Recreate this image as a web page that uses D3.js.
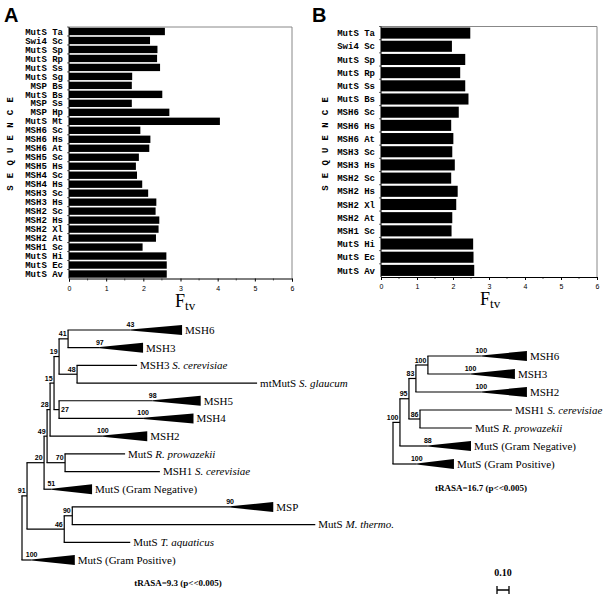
<!DOCTYPE html>
<html><head><meta charset="utf-8">
<script src="https://cdn.jsdelivr.net/npm/d3@7"></script>
<style>body{margin:0;background:#fff}</style>
</head><body><svg id="c" width="608" height="595"></svg>
<script>
// ---------- DATA ----------
const seqA = ["MutS Ta","Swi4 Sc","MutS Sp","MutS Rp","MutS Ss","MutS Sg","MSP Bs","MutS Bs","MSP Ss","MSP Hp","MutS Mt","MSH6 Sc","MSH6 Hs","MSH6 At","MSH5 Sc","MSH5 Hs","MSH4 Sc","MSH4 Hs","MSH3 Sc","MSH3 Hs","MSH2 Sc","MSH2 Hs","MSH2 Xl","MSH2 At","MSH1 Sc","MutS Hi","MutS Ec","MutS Av"];
const ftvA = [2.58,2.18,2.38,2.37,2.45,1.70,1.69,2.51,1.69,2.70,4.06,1.92,2.19,2.16,1.88,1.80,1.83,1.97,2.13,2.35,2.33,2.43,2.41,2.34,1.98,2.62,2.63,2.63];
const seqB = ["MutS Ta","Swi4 Sc","MutS Sp","MutS Rp","MutS Ss","MutS Bs","MSH6 Sc","MSH6 Hs","MSH6 At","MSH3 Sc","MSH3 Hs","MSH2 Sc","MSH2 Hs","MSH2 Xl","MSH2 At","MSH1 Sc","MutS Hi","MutS Ec","MutS Av"];
const ftvB = [2.48,1.97,2.34,2.20,2.34,2.43,2.16,1.95,2.01,1.98,2.05,1.95,2.13,2.09,1.98,1.96,2.56,2.57,2.59];
const xTicks = [0,1,2,3,4,5,6];
const yTitle = "SEQUENCE";

// trees: len = branch length (substitutions/site), boot = bootstrap, wedge = collapsed clade depth
const treeA = {len:0, children:[
  {len:0.042, boot:91, children:[
    {len:0.142, boot:20, children:[
      {len:0.025, boot:49, children:[
        {len:0.025, boot:28, children:[
          {len:0.033, boot:15, children:[
            {len:0.042, boot:19, children:[
              {len:0.075, boot:41, children:[
                {len:0.95, name:"MSH6", boot:43, wedge:0.43},
                {len:0.625, name:"MSH3", boot:97, wedge:0.36}]},
              {len:0.15, boot:48, children:[
                {len:0.5, name:"MSH3", sp:"S. cerevisiae"},
                {len:1.5, name:"mtMutS", sp:"S. glaucum"}]}]},
            {len:0.042, boot:27, bootRight:true, children:[
              {len:1.18, name:"MSH5", boot:98, wedge:0.40},
              {len:1.12, name:"MSH4", boot:100, wedge:0.42}]}]},
          {len:0.81, name:"MSH2", boot:100, wedge:0.37}]},
        {len:0.15, boot:70, children:[
          {len:0.5, name:"MutS", sp:"R. prowazekii"},
          {len:0.79, name:"MSH1", sp:"S. cerevisiae"}]}]},
      {len:0.40, name:"MutS (Gram Negative)", boot:51, wedge:0.34}]},
    {len:0.31, boot:46, children:[
      {len:0.067, boot:90, children:[
        {len:1.675, name:"MSP", boot:90, wedge:0.36},
        {len:2.025, name:"MutS", sp:"M. thermo."}]},
      {len:0.55, name:"MutS", sp:"T. aquaticus"}]}]},
  {len:0.44, name:"MutS (Gram Positive)", boot:100, wedge:0.36}]};

const treeB = {len:0, children:[
  {len:0.058, boot:100, children:[
    {len:0.075, boot:95, children:[
      {len:0.058, boot:83, children:[
        {len:0.10, boot:100, children:[
          {len:0.825, name:"MSH6", boot:100, wedge:0.38},
          {len:0.725, name:"MSH3", boot:100, wedge:0.37}]},
        {len:0.925, name:"MSH2", boot:100, wedge:0.38}]},
      {len:0.092, boot:86, children:[
        {len:0.767, name:"MSH1", sp:"S. cerevisiae"},
        {len:0.433, name:"MutS", sp:"R. prowazekii"}]}]},
    {len:0.592, name:"MutS (Gram Negative)", boot:88, wedge:0.36}]},
  {len:0.508, name:"MutS (Gram Positive)", boot:100, wedge:0.31}]};

const statA = "tRASA=9.3 (p<<0.005)";
const statB = "tRASA=16.7 (p<<0.005)";
const scaleBar = 0.10;

// ---------- DRAW ----------
const svg = d3.select("#c");
svg.append("rect").attr("width",608).attr("height",595).attr("fill","#fff");

function barChart(o){
  const g = svg.append("g");
  const x = d3.scaleLinear().domain([0,6]).range([o.x0,o.x1]);
  const y = d3.scaleBand().domain(o.seq).range([o.y0,o.y1]).paddingInner(o.pad).paddingOuter(o.pad/2);
  // frame
  g.append("path").attr("d",`M${o.x0},${o.y0}H${o.x1}V${o.y1}`).attr("fill","none").attr("stroke","#888").attr("stroke-width",1);
  g.selectAll("rect.bar").data(o.vals).join("rect").attr("class","bar")
    .attr("x",x(0)).attr("y",(d,i)=>y(o.seq[i])).attr("height",y.bandwidth())
    .attr("width",d=>x(d)-x(0)).attr("fill","#000");
  // left axis
  g.append("line").attr("x1",o.x0).attr("x2",o.x0).attr("y1",o.y0).attr("y2",o.y1).attr("stroke","#000");
  const step = y.step();
  g.selectAll("line.yt").data(o.seq).join("line").attr("class","yt")
    .attr("x1",o.x0-2).attr("x2",o.x0).attr("y1",d=>y(d)-step*o.pad/2).attr("y2",d=>y(d)-step*o.pad/2)
    .attr("stroke","#000").attr("stroke-width",0.6);
  g.selectAll("text.lab").data(o.seq).join("text").attr("class","lab")
    .attr("x",o.x0-6).attr("y",d=>y(d)+y.bandwidth()/2).attr("dy","0.35em")
    .attr("text-anchor","end").attr("font-family","Liberation Mono, monospace").attr("font-weight","bold")
    .attr("font-size",o.fs).attr("xml:space","preserve").style("white-space","pre").text(d=>d);
  // bottom axis
  const ax = g.append("g").attr("transform",`translate(0,${o.y1})`)
    .call(d3.axisBottom(x).tickValues(xTicks).tickSize(3).tickFormat(d3.format("d")));
  ax.select(".domain").attr("stroke","#000");
  ax.selectAll("text").attr("font-family","Liberation Sans, Arial").attr("font-size",7).attr("dy","0.9em");
  const minor = d3.range(0.5,6,1);
  g.selectAll("line.mt").data(minor).join("line").attr("class","mt")
    .attr("x1",d=>x(d)).attr("x2",d=>x(d)).attr("y1",o.y1).attr("y2",o.y1+2).attr("stroke","#000").attr("stroke-width",0.6);
  // x title
  const t = g.append("text").attr("x",o.tx).attr("y",o.y1+28).attr("font-family","Liberation Serif, Times New Roman, serif");
  t.append("tspan").attr("font-size",18).text("F");
  t.append("tspan").attr("font-size",13).attr("dy",3).text("tv");
  // y title
  g.append("text").attr("transform",`translate(${o.yx},144) rotate(-90)`)
    .attr("text-anchor","middle").attr("font-family","Liberation Mono, monospace").attr("font-weight","bold")
    .attr("font-size",9).attr("letter-spacing",7.2).attr("dx",3.6).text(yTitle);
  // panel letter
  g.append("text").attr("x",o.px).attr("y",22).attr("font-family","Liberation Sans, Arial").attr("font-weight","bold")
    .attr("font-size",20).text(o.panel);
}
barChart({seq:seqA, vals:ftvA, x0:69, x1:292, y0:27, y1:278.5, pad:0.18, fs:9, tx:175, yx:13, px:4, panel:"A"});
barChart({seq:seqB, vals:ftvB, x0:381, x1:597, y0:26.5, y1:277, pad:0.16, fs:9, tx:480, yx:328, px:312, panel:"B"});

function drawTree(data, o){
  const g = svg.append("g");
  const root = d3.hierarchy(data);
  const x = d3.scaleLinear().domain([0,1]).range([o.x0, o.x0+120]);
  root.eachBefore(d=>{ d.dist = (d.parent?d.parent.dist:0) + d.data.len; });
  const leaves = root.leaves();
  const ly = d3.scaleLinear().domain([0,leaves.length-1]).range([o.y0,o.y1]);
  leaves.forEach((d,i)=> d.yy = ly(i));
  root.eachAfter(d=>{ if(d.children) d.yy = (d.children[0].yy + d.children[d.children.length-1].yy)/2; });
  const sw = 1.2;
  root.descendants().forEach(d=>{
    if(d.children){
      g.append("line").attr("x1",x(d.dist)).attr("x2",x(d.dist))
        .attr("y1",d.children[0].yy).attr("y2",d.children[d.children.length-1].yy).attr("stroke","#000").attr("stroke-width",sw);
    }
    if(!d.parent) return;
    const xs = x(d.parent.dist), xe = x(d.dist);
    const wx = d.data.wedge ? x(d.dist - d.data.wedge) : xe;
    g.append("line").attr("x1",xs-sw/2).attr("x2",wx).attr("y1",d.yy).attr("y2",d.yy).attr("stroke","#000").attr("stroke-width",sw);
    if(d.data.wedge){
      g.append("path").attr("d",`M${wx},${d.yy-0.6}L${xe},${d.yy-5}V${d.yy+5}L${wx},${d.yy+0.6}Z`).attr("fill","#000");
    }
    if(d.data.boot!==undefined){
      const bt = g.append("text").attr("font-family","Liberation Sans, Arial").attr("font-weight","bold").attr("font-size",7);
      if(!d.children){
        bt.attr("x",wx).attr("y",d.yy-3).attr("text-anchor","middle").text(d.data.boot);
      } else if(d.data.bootRight){
        bt.attr("x",xe+2).attr("y",d.yy+2.5).text(d.data.boot);
      } else {
        bt.attr("x",xe-1.5).attr("y",d.yy-2.5).attr("text-anchor","end").text(d.data.boot);
      }
    }
    if(!d.children){
      const t = g.append("text").attr("x",xe+3).attr("y",d.yy).attr("dy","0.35em")
        .attr("font-family","Liberation Serif, Times New Roman, serif").attr("font-size",11);
      t.append("tspan").text(d.data.name);
      if(d.data.sp) t.append("tspan").attr("font-style","italic").text(" "+d.data.sp);
    }
  });
  g.append("text").attr("x",o.sx).attr("y",o.sy).attr("text-anchor","middle")
    .attr("font-family","Liberation Serif, Times New Roman, serif").attr("font-weight","bold").attr("font-size",9).text(o.stat);
  return x;
}
drawTree(treeA, {x0:22, y0:330, y1:560, sx:178, sy:586, stat:statA});
const xb = drawTree(treeB, {x0:393, y0:356, y1:464, sx:481, sy:491, stat:statB});

// scale bar
const sb = svg.append("g");
const sbx0 = 497;
const sbw = xb(scaleBar) - xb(0);
sb.append("text").attr("x",sbx0+sbw/2).attr("y",576).attr("text-anchor","middle")
  .attr("font-family","Liberation Serif, Times New Roman, serif").attr("font-weight","bold").attr("font-size",10).text(scaleBar.toFixed(2));
sb.append("path").attr("d",`M${sbx0},586V594M${sbx0},590H${sbx0+sbw}M${sbx0+sbw},586V594`).attr("stroke","#000").attr("stroke-width",1.3).attr("fill","none");
</script></body></html>
